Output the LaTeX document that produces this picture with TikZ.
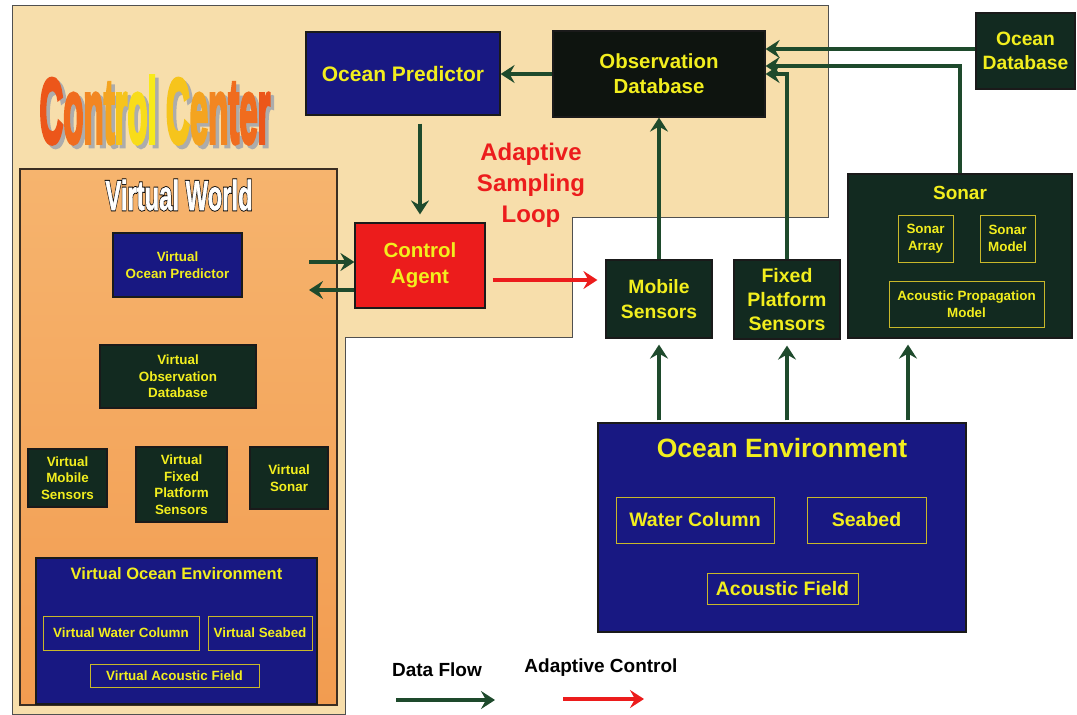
\documentclass[tikz,border=0pt]{standalone}
\usepackage{fontspec}
\setmainfont{Liberation Sans}
\newfontfamily\ccfont{Liberation Sans Bold}[FakeBold=4.5]
\newfontfamily\vwfont{Liberation Sans Bold}[FakeBold=1.5]
\newfontfamily\vwoutfont{Liberation Sans Bold}[FakeBold=6]
\usetikzlibrary{arrows.meta,calc}
\newcommand\myfs[2]{\fontsize{#1}{#2}\selectfont}
\definecolor{tanbg}{HTML}{F7DEAB}
\definecolor{ccborder}{HTML}{505050}
\definecolor{vwtop}{HTML}{F6B46E}
\definecolor{vwbot}{HTML}{F29C50}
\definecolor{navyc}{HTML}{181882}
\definecolor{darkc}{HTML}{122A20}
\definecolor{blackc}{HTML}{0E140F}
\definecolor{ytext}{HTML}{F2EE1E}
\definecolor{ibord}{HTML}{C8B82A}
\definecolor{boxline}{HTML}{1A1A1A}
\definecolor{flowg}{HTML}{1E4A2C}
\definecolor{adred}{HTML}{EC1C1C}
\definecolor{gA}{HTML}{EC561A}
\definecolor{gB}{HTML}{F06C1E}
\definecolor{gC}{HTML}{F28622}
\definecolor{gD}{HTML}{F4A420}
\definecolor{gE}{HTML}{F6C41C}
\definecolor{gF}{HTML}{F8DC1A}
\definecolor{gG}{HTML}{F8EA1A}
\newcommand\ccgrad{{\color{gA}C}{\color{gB}o}{\color{gC}n}{\color{gD}t}{\color{gE}r}{\color{gF}o}{\color{gG}l} {\color{gE}C}{\color{gD}e}{\color{gC}n}{\color{gB}t}{\color{gB}e}{\color{gA}r}}
\begin{document}
\begin{tikzpicture}[x=1pt,y=-1pt,
  box/.style={draw=boxline, line width=1.2pt, inner sep=0pt, align=center, text=ytext},
  navybox/.style={box, fill=navyc},
  darkbox/.style={box, fill=darkc},
  ibox/.style={draw=ibord, line width=0.8pt, inner sep=0pt, align=center, text=ytext},
  smalltxt/.style={font=\bfseries\myfs{13.4}{16.5}},
  cctxt/.style={font=\ccfont\myfs{50}{50}, xscale=0.66, yscale=1.84, transform shape, inner sep=0pt},
  vwtxt/.style={xscale=0.85, yscale=1.5, transform shape, inner sep=0pt},
  flow/.style={draw=flowg, line width=3.6pt, -{Stealth[length=14pt,width=18pt,inset=5pt]}},
  adflow/.style={draw=adred, line width=3.6pt, -{Stealth[length=14pt,width=18pt,inset=5pt]}}]
\useasboundingbox (0,0) rectangle (1077,715);
\fill[white] (0,0) rectangle (1077,715);
% control center region
\draw[draw=ccborder, line width=1pt, fill=tanbg] (12,5) -- (828,5) -- (828,217) -- (572,217) -- (572,337) -- (345,337) -- (345,714) -- (12,714) -- cycle;
% Control Center title
\begin{scope}[shift={(158.5,113.5)}]
\node[cctxt, text=gray!65] (CCs) at (0,0) {Control Center};
\end{scope}
\begin{scope}[shift={(155,110)}]
\node[cctxt] (CC) at (0,0) {\ccgrad};
\end{scope}
% Virtual world
\node[draw=boxline!80!brown, line width=1.2pt, top color=vwtop, bottom color=vwbot, minimum width=317pt, minimum height=536pt, inner sep=0pt] (VW) at (178.5,437) {};
\begin{scope}[shift={(179,195)}]
\node[vwtxt, text=black, font=\vwoutfont\myfs{28}{28}] (VWo) at (0,0) {Virtual World};
\node[vwtxt, text=white, font=\vwfont\myfs{28}{28}] (VWt) at (0,0) {Virtual World};
\end{scope}
\node[navybox, smalltxt, minimum width=129pt, minimum height=64pt] (VOP) at (177.5,265) {Virtual\\Ocean Predictor};
\node[darkbox, smalltxt, minimum width=156pt, minimum height=63pt] (VOD) at (178,376.5) {Virtual\\Observation\\Database};
\node[darkbox, smalltxt, minimum width=79pt, minimum height=58pt] (VMS) at (67.5,478) {Virtual\\Mobile\\Sensors};
\node[darkbox, smalltxt, minimum width=91pt, minimum height=75pt] (VFPS) at (181.5,484.5) {Virtual\\Fixed\\Platform\\Sensors};
\node[darkbox, smalltxt, minimum width=78pt, minimum height=62pt] (VS) at (289,478) {Virtual\\Sonar};
\node[navybox, minimum width=281pt, minimum height=146pt] (VOE) at (176.5,631) {};
\node[text=ytext, font=\bfseries\myfs{16.5}{20}] (VOEt) at (176.5,574) {Virtual Ocean Environment};
\node[ibox, smalltxt, minimum width=156pt, minimum height=34pt] (VWC) at (121,633) {Virtual Water Column};
\node[ibox, smalltxt, minimum width=104pt, minimum height=34pt] (VSB) at (260,633) {Virtual Seabed};
\node[ibox, smalltxt, minimum width=169pt, minimum height=23pt] (VAF) at (174.5,675.5) {Virtual Acoustic Field};
% main boxes
\node[navybox, font=\bfseries\myfs{21}{25}, minimum width=194pt, minimum height=83pt] (OP) at (403,73.5) {Ocean Predictor};
\node[box, fill=blackc, font=\bfseries\myfs{20.4}{25}, minimum width=212pt, minimum height=86pt] (OD) at (659,74) {Observation\\Database};
\node[darkbox, font=\bfseries\myfs{19.3}{24}, minimum width=99pt, minimum height=76pt] (ODB) at (1025.5,51) {Ocean\\Database};
\node[box, fill=adred, font=\bfseries\myfs{20.5}{26}, minimum width=130pt, minimum height=85pt] (CA) at (420,265.5) {Control\\Agent};
\node[text=adred, align=center, font=\bfseries\myfs{24}{31}] (ASL) at (531,185) {Adaptive\\Sampling\\Loop};
\node[darkbox, font=\bfseries\myfs{19.3}{25}, minimum width=106pt, minimum height=78pt] (MS) at (659,299) {Mobile\\Sensors};
\node[darkbox, font=\bfseries\myfs{19.5}{24}, minimum width=106pt, minimum height=79pt] (FPS) at (787,299.5) {Fixed\\Platform\\Sensors};
\node[darkbox, minimum width=224pt, minimum height=164pt] (Sonar) at (960,256) {};
\node[text=ytext, font=\bfseries\myfs{19}{22}] (Sonart) at (960,193) {Sonar};
\node[ibox, smalltxt, minimum width=55pt, minimum height=47pt] (SA) at (925.5,238.5) {Sonar\\Array};
\node[ibox, smalltxt, minimum width=55pt, minimum height=47pt] (SM) at (1007.5,238.5) {Sonar\\Model};
\node[ibox, smalltxt, minimum width=155pt, minimum height=46pt] (APM) at (966.5,304) {Acoustic Propagation\\Model};
\node[navybox, minimum width=368pt, minimum height=209pt] (OE) at (782,527.5) {};
\node[text=ytext, font=\bfseries\myfs{26.5}{30}] (OEt) at (782,448) {Ocean Environment};
\node[ibox, font=\bfseries\myfs{19.5}{24}, minimum width=158pt, minimum height=46pt] (WC) at (695,520) {Water Column};
\node[ibox, font=\bfseries\myfs{19.5}{24}, minimum width=119pt, minimum height=46pt] (SB) at (866.5,520) {Seabed};
\node[ibox, font=\bfseries\myfs{19.5}{24}, minimum width=151pt, minimum height=31pt] (AF) at (782.5,588.5) {Acoustic Field};
% connectors
\draw[flow] (OD.west) -- (OD.west -| OP.east);
\draw[flow, shorten <=8pt, shorten >=8pt] (CA.north |- OP.south) -- (CA.north);
\coordinate (vw1) at (309,262);
\coordinate (vw2) at (309,290);
\draw[flow] (vw1) -- (vw1 -| CA.west);
\draw[flow] (vw2 -| CA.west) -- (vw2);
\coordinate (rl) at (0,280);
\draw[adflow, shorten <=7pt, shorten >=8pt] (CA.east |- rl) -- (MS.west |- rl);
\draw[flow] (MS.north) -- (MS.north |- OD.south);
\draw[flow] (FPS.north) |- (OD.east);
\draw[flow] (Sonar.north) |- ([yshift=8pt]OD.east);
\draw[flow] ([yshift=2pt]ODB.west) -- ([yshift=2pt]ODB.west -| OD.east);
\coordinate (sx) at (908,0);
\draw[flow, shorten >=6pt] ([yshift=2pt]OE.north -| MS.south) -- (MS.south);
\draw[flow, shorten >=6pt] ([yshift=2pt]OE.north -| FPS.south) -- (FPS.south);
\draw[flow, shorten >=6pt] ([yshift=2pt]OE.north -| sx) -- (Sonar.south -| sx);
% legend
\node[font=\bfseries\myfs{19}{22}] (LDF) at (437,670) {Data Flow};
\node[font=\bfseries\myfs{19}{22}] (LAC) at (601,668) {Adaptive Control};
\coordinate (lg1) at (396,700);
\coordinate (lg2) at (495,700);
\coordinate (lr1) at (563,699);
\coordinate (lr2) at (644,699);
\draw[flow] (lg1) -- (lg2);
\draw[adflow] (lr1) -- (lr2);
\end{tikzpicture}
\end{document}
